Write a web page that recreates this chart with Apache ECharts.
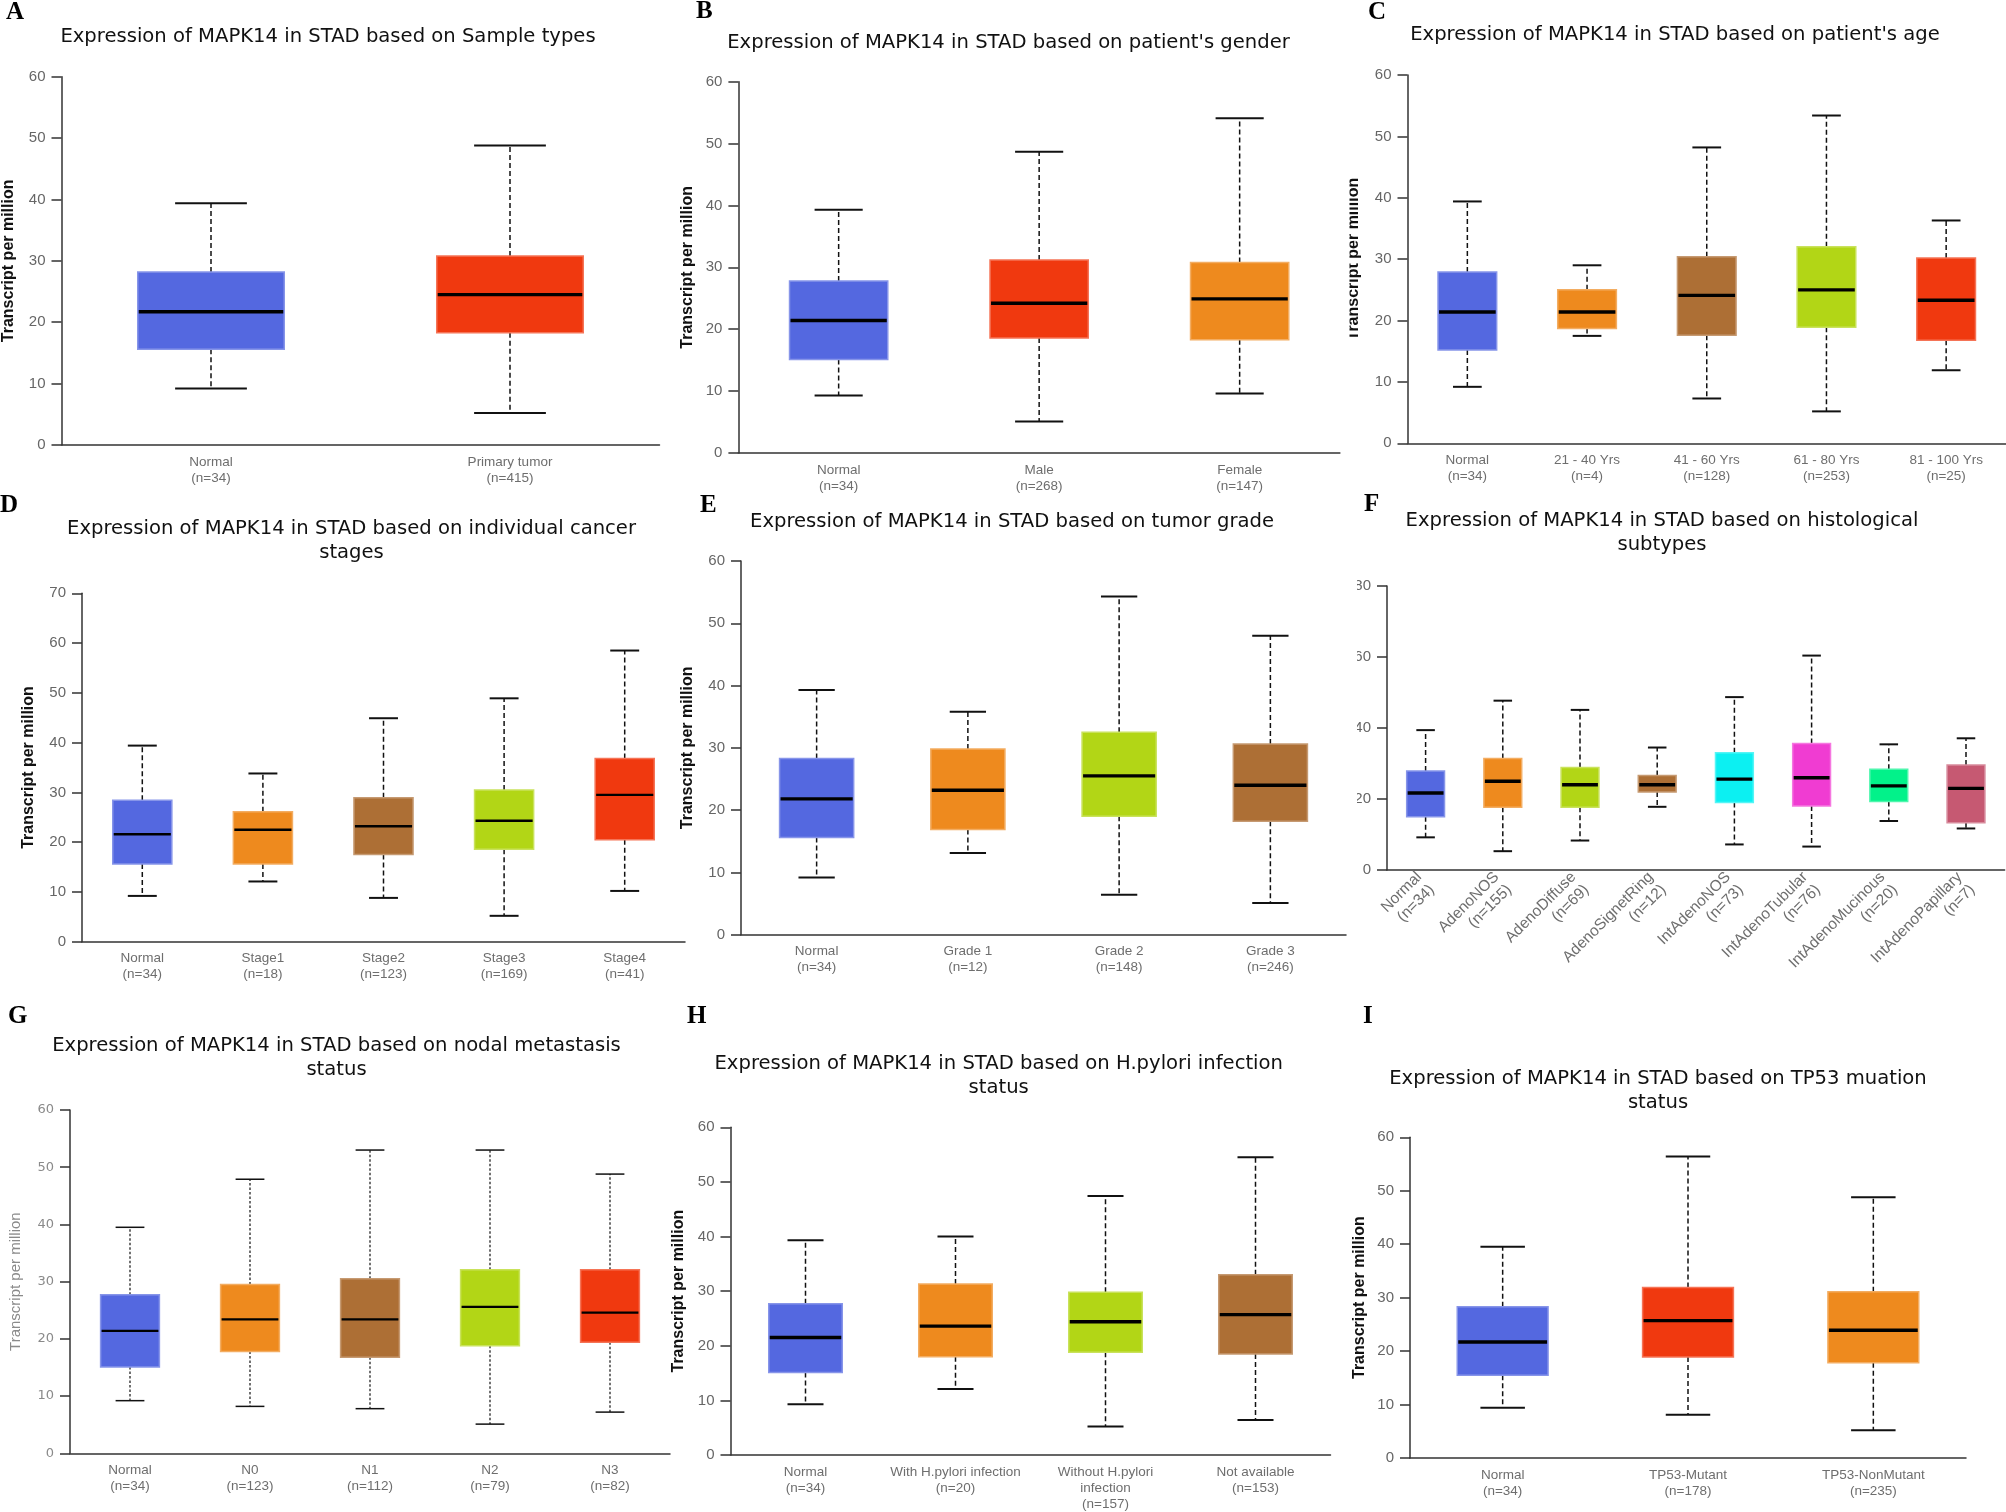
<!DOCTYPE html>
<html>
<head>
<meta charset="utf-8">
<script src="https://cdn.jsdelivr.net/npm/echarts/dist/echarts.min.js"></script>
<style>
html,body{margin:0;padding:0;background:#fff;}
#chart{width:2006px;height:1512px;}
</style>
</head>
<body>
<div id="chart"></div>
<script>
// ---------------- DATA ----------------
// each box: [lower whisker, Q1, median, Q3, upper whisker]
const titleA = 'Expression of MAPK14 in STAD based on Sample types';
const catsA = ['Normal\n(n=34)', 'Primary tumor\n(n=415)'];
const boxA = [[9.2, 15.6, 21.7, 28.2, 39.4], [5.2, 18.3, 24.5, 30.8, 48.8]];
const ticksA = [0, 10, 20, 30, 40, 50, 60];

const titleB = "Expression of MAPK14 in STAD based on patient's gender";
const catsB = ['Normal\n(n=34)', 'Male\n(n=268)', 'Female\n(n=147)'];
const boxB = [[9.3, 15.1, 21.4, 27.8, 39.3], [5.1, 18.6, 24.2, 31.2, 48.7], [9.6, 18.3, 24.9, 30.8, 54.1]];
const ticksB = [0, 10, 20, 30, 40, 50, 60];

const titleC = "Expression of MAPK14 in STAD based on patient's age";
const catsC = ['Normal\n(n=34)', '21 - 40 Yrs\n(n=4)', '41 - 60 Yrs\n(n=128)', '61 - 80 Yrs\n(n=253)', '81 - 100 Yrs\n(n=25)'];
const boxC = [[9.2, 15.2, 21.4, 27.9, 39.4], [17.5, 18.7, 21.4, 25.0, 29.0], [7.3, 17.6, 24.1, 30.4, 48.2], [5.2, 18.9, 25.0, 32.0, 53.4], [11.9, 16.8, 23.3, 30.2, 36.3]];
const ticksC = [0, 10, 20, 30, 40, 50, 60];

const titleD = 'Expression of MAPK14 in STAD based on individual cancer\nstages';
const catsD = ['Normal\n(n=34)', 'Stage1\n(n=18)', 'Stage2\n(n=123)', 'Stage3\n(n=169)', 'Stage4\n(n=41)'];
const boxD = [[9.2, 15.6, 21.6, 28.4, 39.4], [12.1, 15.6, 22.5, 26.1, 33.8], [8.8, 17.5, 23.2, 28.9, 44.9], [5.2, 18.6, 24.3, 30.5, 48.9], [10.2, 20.5, 29.5, 36.8, 58.5]];
const ticksD = [0, 10, 20, 30, 40, 50, 60, 70];

const titleE = 'Expression of MAPK14 in STAD based on tumor grade';
const catsE = ['Normal\n(n=34)', 'Grade 1\n(n=12)', 'Grade 2\n(n=148)', 'Grade 3\n(n=246)'];
const boxE = [[9.2, 15.6, 21.8, 28.3, 39.3], [13.1, 16.9, 23.2, 29.8, 35.8], [6.4, 19.0, 25.5, 32.5, 54.3], [5.1, 18.2, 24.0, 30.6, 48.0]];
const ticksE = [0, 10, 20, 30, 40, 50, 60];

const titleF = 'Expression of MAPK14 in STAD based on histological\nsubtypes';
const catsF = ['Normal\n(n=34)', 'AdenoNOS\n(n=155)', 'AdenoDiffuse\n(n=69)', 'AdenoSignetRing\n(n=12)', 'IntAdenoNOS\n(n=73)', 'IntAdenoTubular\n(n=76)', 'IntAdenoMucinous\n(n=20)', 'IntAdenoPapillary\n(n=7)'];
const boxF = [[9.2, 15.0, 21.7, 27.9, 39.4], [5.3, 17.7, 25.0, 31.4, 47.7], [8.3, 17.7, 24.0, 28.9, 45.1], [17.8, 22.0, 24.0, 26.6, 34.5], [7.2, 19.0, 25.6, 33.0, 48.7], [6.6, 18.0, 26.0, 35.6, 60.4], [13.8, 19.3, 23.7, 28.4, 35.4], [11.7, 13.3, 23.0, 29.6, 37.1]];
const ticksF = [0, 20, 40, 60, 80];

const titleG = 'Expression of MAPK14 in STAD based on nodal metastasis\nstatus';
const catsG = ['Normal\n(n=34)', 'N0\n(n=123)', 'N1\n(n=112)', 'N2\n(n=79)', 'N3\n(n=82)'];
const boxG = [[9.2, 15.1, 21.4, 27.7, 39.5], [8.2, 17.8, 23.4, 29.5, 47.9], [7.8, 16.8, 23.4, 30.5, 53.0], [5.1, 18.8, 25.6, 32.1, 53.0], [7.2, 19.4, 24.6, 32.1, 48.8]];
const ticksG = [0, 10, 20, 30, 40, 50, 60];

const titleH = 'Expression of MAPK14 in STAD based on H.pylori infection\nstatus';
const catsH = ['Normal\n(n=34)', 'With H.pylori infection\n(n=20)', 'Without H.pylori\ninfection\n(n=157)', 'Not available\n(n=153)'];
const boxH = [[9.3, 15.1, 21.5, 27.7, 39.3], [12.1, 18.0, 23.6, 31.3, 40.0], [5.2, 18.8, 24.4, 29.8, 47.4], [6.4, 18.5, 25.7, 33.0, 54.5]];
const ticksH = [0, 10, 20, 30, 40, 50, 60];

const titleI = 'Expression of MAPK14 in STAD based on TP53 muation\nstatus';
const catsI = ['Normal\n(n=34)', 'TP53-Mutant\n(n=178)', 'TP53-NonMutant\n(n=235)'];
const boxI = [[9.4, 15.5, 21.7, 28.3, 39.5], [8.1, 18.9, 25.7, 31.9, 56.4], [5.2, 17.8, 23.9, 31.1, 48.8]];
const ticksI = [0, 10, 20, 30, 40, 50, 60];

const yName = 'Transcript per million';
const letters = ['A', 'B', 'C', 'D', 'E', 'F', 'G', 'H', 'I'];

// ---------------- STYLES / LAYOUT ----------------
const BLUE = '#5468e0', RED = '#f0390f', ORANGE = '#ee8a1e', BROWN = '#ad6f35', LIME = '#b2d616',
      CYAN = '#0cf0f2', MAGENTA = '#f03cd2', SPRING = '#02f28a', ROSE = '#c65972';
const colorsA = [BLUE, RED];
const colorsB = [BLUE, RED, ORANGE];
const colorsC = [BLUE, ORANGE, BROWN, LIME, RED];
const colorsD = [BLUE, ORANGE, BROWN, LIME, RED];
const colorsE = [BLUE, ORANGE, LIME, BROWN];
const colorsF = [BLUE, ORANGE, LIME, BROWN, CYAN, MAGENTA, SPRING, ROSE];
const colorsG = [BLUE, ORANGE, BROWN, LIME, RED];
const colorsH = [BLUE, ORANGE, LIME, BROWN];
const colorsI = [BLUE, RED, ORANGE];

const layout = [
  {left: 61.5, top: 76.7, width: 598, height: 368.3, tx: 328, ty: 37, lx: 6, ly: 13, gap: 44.5},
  {left: 738.4, top: 81.7, width: 601.5, height: 371.3, tx: 1008.5, ty: 43, lx: 696, ly: 12, gap: 42.8},
  {left: 1407.5, top: 75, width: 600, height: 368.3, tx: 1675, ty: 35, lx: 1368, ly: 13, gap: 45.5},
  {left: 82, top: 593.3, width: 603, height: 348.4, tx: 351.5, ty: 541.3, lx: 0, ly: 506, gap: 45.7, med: 2.4},
  {left: 741, top: 561, width: 605, height: 373.7, tx: 1012, ty: 521.7, lx: 700, ly: 506, gap: 45.4},
  {left: 1387, top: 586, width: 617.6, height: 284, tx: 1662, ty: 533, lx: 1364, ly: 505, gap: 0, rotate: 45, noName: true},
  {left: 70, top: 1110, width: 600, height: 343.3, tx: 336.5, ty: 1058.3, lx: 8, ly: 1017, gap: 46.5, med: 2.2, light: true},
  {left: 730.5, top: 1127.3, width: 600, height: 329.4, tx: 998.7, ty: 1076, lx: 687, ly: 1017, gap: 43.5},
  {left: 1410, top: 1137.3, width: 556, height: 320.7, tx: 1658, ty: 1090.5, lx: 1363, ly: 1017, gap: 42}
];

const panels = [
  [titleA, catsA, boxA, ticksA, colorsA],
  [titleB, catsB, boxB, ticksB, colorsB],
  [titleC, catsC, boxC, ticksC, colorsC],
  [titleD, catsD, boxD, ticksD, colorsD],
  [titleE, catsE, boxE, ticksE, colorsE],
  [titleF, catsF, boxF, ticksF, colorsF],
  [titleG, catsG, boxG, ticksG, colorsG],
  [titleH, catsH, boxH, ticksH, colorsH],
  [titleI, catsI, boxI, ticksI, colorsI]
];

function lighten(hex, t) {
  const n = parseInt(hex.slice(1), 16);
  const r = n >> 16, g = (n >> 8) & 255, b = n & 255;
  const f = c => Math.round(c + (255 - c) * t);
  return 'rgb(' + f(r) + ',' + f(g) + ',' + f(b) + ')';
}

const grids = [], xAxes = [], yAxes = [], series = [], graphics = [];

panels.forEach((p, i) => {
  const [title, cats, box, ticks, colors] = p;
  const L = layout[i];
  const light = !!L.light;
  grids.push({left: L.left, top: L.top, width: L.width, height: L.height, containLabel: false});
  xAxes.push({
    gridIndex: i, type: 'category', data: cats, boundaryGap: true,
    axisLine: {show: true, lineStyle: {color: '#333', width: 1.5}},
    axisTick: {show: false},
    splitLine: {show: false},
    axisLabel: L.rotate
      ? {interval: 0, margin: 11, color: '#6e6e6e', fontSize: 15.5, lineHeight: 18,
         fontFamily: 'Liberation Sans', rotate: L.rotate}
      : {interval: 0, margin: 9, color: '#6e6e6e', fontSize: 13.5, lineHeight: 16,
         fontFamily: 'Liberation Sans'}
  });
  const y = {
    gridIndex: i, type: 'value', min: ticks[0], max: ticks[ticks.length - 1], interval: ticks[1] - ticks[0],
    axisLine: {show: true, lineStyle: {color: '#333', width: 1.5}},
    axisTick: {show: true, length: 10, lineStyle: {color: '#333', width: 1.5}},
    splitLine: {show: false},
    axisLabel: light
      ? {margin: 16, color: '#8a8a8a', fontSize: 13, fontFamily: 'DejaVu Sans'}
      : {margin: 16, color: '#666', fontSize: 15, fontFamily: 'Liberation Sans'}
  };
  if (!L.noName) {
    y.name = yName;
    y.nameLocation = 'middle';
    y.nameRotate = 90;
    y.nameGap = L.gap;
    y.nameTextStyle = light
      ? {color: '#8a8a8a', fontSize: 15, fontFamily: 'Liberation Sans', fontWeight: 'normal'}
      : {color: '#111', fontSize: 16, fontFamily: 'Liberation Sans', fontWeight: 'bold'};
  }
  yAxes.push(y);

  const medW = L.med || 3.4;
  const whW = light ? 1.2 : 1.5;
  const dash = light ? [2.5, 2] : [5, 3];
  const capW = light ? 1.5 : 2;
  series.push({
    type: 'custom', xAxisIndex: i, yAxisIndex: i, silent: true, animation: false,
    data: box.map((b, k) => [k].concat(b)),
    encode: {x: 0, y: [1, 2, 3, 4, 5]},
    renderItem: function (params, api) {
      const k = api.value(0);
      const lo = api.value(1), q1 = api.value(2), md = api.value(3), q3 = api.value(4), hi = api.value(5);
      const cx = api.coord([k, md])[0];
      const bw = api.size([1, 0])[0];
      const Y = v => api.coord([k, v])[1];
      const bh = bw * 0.245, ch = bw * 0.12;
      const col = colors[params.dataIndex % colors.length];
      const ln = (x1, y1, x2, y2, st) => ({type: 'line', shape: {x1, y1, x2, y2}, style: st});
      const wst = {stroke: '#111', lineWidth: whW, lineDash: dash};
      const cst = {stroke: '#111', lineWidth: capW};
      return {
        type: 'group',
        children: [
          ln(cx, Y(q3), cx, Y(hi), wst),
          ln(cx, Y(q1), cx, Y(lo), wst),
          ln(cx - ch, Y(hi), cx + ch, Y(hi), cst),
          ln(cx - ch, Y(lo), cx + ch, Y(lo), cst),
          {type: 'rect', shape: {x: cx - bh, y: Y(q3), width: bh * 2, height: Y(q1) - Y(q3)},
           style: {fill: col, stroke: lighten(col, 0.3), lineWidth: 1.5}},
          ln(cx - bh + 1, Y(md), cx + bh - 1, Y(md), {stroke: '#000', lineWidth: medW})
        ]
      };
    }
  });

  graphics.push({
    type: 'text', x: L.tx, y: L.ty, z: 50,
    style: {text: title, align: 'center', verticalAlign: 'middle', textAlign: 'center', textVerticalAlign: 'middle',
            fontSize: 19.6, fontFamily: 'DejaVu Sans', fill: '#111', lineHeight: 24}
  });
  graphics.push({
    type: 'text', x: L.lx, y: L.ly, z: 50,
    style: {text: letters[i], align: 'left', verticalAlign: 'middle', textAlign: 'left', textVerticalAlign: 'middle',
            fontSize: 25, fontWeight: 'bold', fontFamily: 'Liberation Serif', fill: '#000'}
  });
});

// the third column of the reference is cropped at its left edge
graphics.push({type: 'rect', z: 100, shape: {x: 1341, y: 560, width: 16, height: 330}, style: {fill: '#fff'}});
graphics.push({type: 'rect', z: 100, shape: {x: 1341, y: 150, width: 8.5, height: 240}, style: {fill: '#fff'}});

const chart = echarts.init(document.getElementById('chart'), null, {renderer: 'canvas'});
chart.setOption({
  backgroundColor: '#fff',
  animation: false,
  grid: grids,
  xAxis: xAxes,
  yAxis: yAxes,
  series: series,
  graphic: graphics
});
</script>
</body>
</html>
